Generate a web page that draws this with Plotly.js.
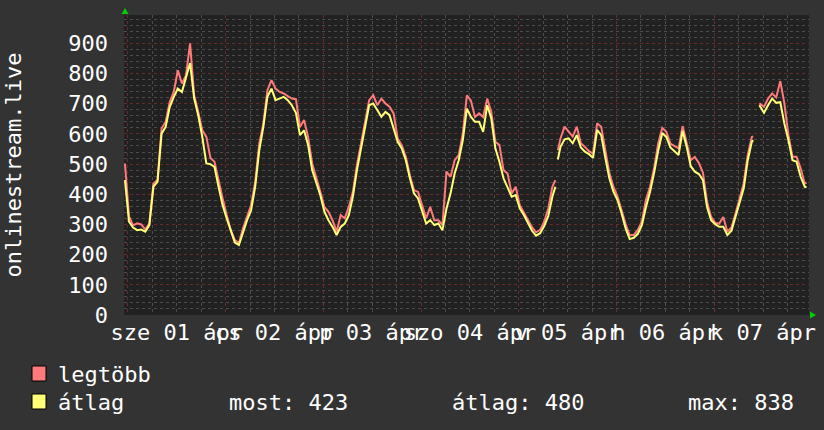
<!DOCTYPE html>
<html><head><meta charset="utf-8">
<script src="https://cdn.plot.ly/plotly-3.0.1.min.js"></script>
<style>html,body{margin:0;padding:0;background:#333333;}#chart{width:824px;height:430px;}</style>
</head><body><div id="chart"></div>
<script>
// time in hours from 01 Apr 00:00
const hours = [
-0.75,0.25,1.25,2.25,3.25,4.25,5.25,6.25,7.25,8.25,9.25,10.25,11.25,12.25,13.25,14.25,15.25,16.25,17.25,18.25,19.25,20.25,21.25,22.25,
23.25,24.25,25.25,26.25,27.25,28.25,29.25,30.25,31.25,32.25,33.25,34.25,35.25,36.25,37.25,38.25,39.25,40.25,41.25,42.25,43.25,44.25,45.25,46.25,
47.25,48.25,49.25,50.25,51.25,52.25,53.25,54.25,55.25,56.25,57.25,58.25,59.25,60.25,61.25,62.25,63.25,64.25,65.25,66.25,67.25,68.25,69.25,70.25,
71.25,72.25,73.25,74.25,75.25,76.25,77.25,78.25,79.25,80.25,81.25,82.25,83.25,84.25,85.25,86.25,87.25,88.25,89.25,90.25,91.25,92.25,93.25,94.25,
95.25,96.25,97.25,98.25,99.25,100.25,101.25,102.25,103.25,104.25,105.0,105.3,105.6,106.25,107.25,108.25,109.25,110.25,111.25,112.25,113.25,114.25,115.25,116.25,117.25,118.25,
119.25,120.25,121.25,122.25,123.25,124.25,125.25,126.25,127.25,128.25,129.25,130.25,131.25,132.25,133.25,134.25,135.25,136.25,137.25,138.25,139.25,140.25,141.25,142.25,
143.25,144.25,145.25,146.25,147.25,148.25,149.25,150.25,151.25,152.25,153.25,153.6,154.3,155.1,156.25,157.25,158.25,159.25,160.25,161.25,162.25,163.25,164.25,165.25,166.25,166.7
];
const atlag = [
447,309,290,281,283,276,298,425,441,601,623,689,723,750,739,783,835,718,662,590,502,500,491,425,
364,320,276,240,232,276,314,347,425,546,623,723,750,712,718,723,712,695,670,596,612,563,480,441,
397,342,314,292,265,292,303,331,392,480,552,623,695,701,679,657,673,662,618,574,552,513,453,403,
386,347,303,314,298,303,281,353,403,469,513,579,684,656,640,640,607,695,651,552,508,453,425,392,
397,353,331,306,279,263,271,295,328,392,425,null,515,557,582,585,569,596,555,541,533,521,613,596,522,453,
409,381,337,287,252,256,269,298,358,408,471,544,603,590,555,541,530,610,557,493,475,467,447,358,
314,301,292,292,265,279,325,375,419,513,574,579,null,695,670,695,717,703,705,634,579,513,508,458,425,423
];
const legtobb = [
502,327,297,304,300,283,304,436,447,618,640,706,739,811,767,794,900,728,673,612,590,520,508,441,
386,331,281,248,238,287,325,364,441,568,634,745,778,750,739,734,725,717,715,623,646,590,502,458,
408,358,342,314,276,331,320,358,408,497,568,634,712,728,695,717,701,690,668,585,563,524,463,414,
408,364,320,358,314,314,298,475,458,513,530,601,728,710,656,668,656,717,673,574,563,480,469,403,
425,364,339,312,291,274,282,309,353,425,447,null,546,585,624,607,591,624,569,557,543,535,635,624,552,471,
425,392,348,301,265,265,282,310,382,425,486,568,620,607,568,560,552,626,568,513,524,504,471,375,
325,305,303,325,276,290,336,386,436,530,590,592,null,701,690,717,734,721,775,701,596,524,524,486,436,438
];
const dayTickHours = [12,36,60,84,108,132,156];
const dayTickLabels = ['sze 01 ápr','cs 02 ápr','p 03 ápr','szo 04 ápr','v 05 ápr','h 06 ápr','k 07 ápr'];
const seriesNames = ['legtöbb','átlag'];
const seriesColors = ['#ff7b7b','#ffff78'];
const statLabels = ['most','átlag','max'];
const statValues = [423,480,838];
const yAxisTitle = 'onlinestream.live';

const FONT = 'DejaVu Sans Mono';
const xr = [-0.98, 167.3];

const traces = [
  {x: hours, y: legtobb, name: seriesNames[0], type: 'scatter', mode: 'lines', xaxis: 'x', yaxis: 'y',
   line: {color: seriesColors[0], width: 2}, connectgaps: false, hoverinfo: 'skip'},
  {x: hours, y: atlag, name: seriesNames[1], type: 'scatter', mode: 'lines', xaxis: 'x2', yaxis: 'y',
   line: {color: seriesColors[1], width: 2}, connectgaps: false, hoverinfo: 'skip'}
];

function px(x){ return (x - 124) / 685; }
function py(y){ return (315 - y) / 300; }

const shapes = [
  {type:'rect', xref:'paper', yref:'paper', x0:px(32), x1:px(46), y0:py(381), y1:py(366), fillcolor:seriesColors[0], line:{color:'#000', width:1}},
  {type:'rect', xref:'paper', yref:'paper', x0:px(32), x1:px(46), y0:py(409), y1:py(394), fillcolor:seriesColors[1], line:{color:'#000', width:1}},
  {type:'path', xref:'paper', yref:'paper', path:`M ${px(121.5)} ${py(14)} L ${px(128.5)} ${py(14)} L ${px(125)} ${py(8)} Z`, fillcolor:'#00d000', line:{width:0}},
  {type:'path', xref:'paper', yref:'paper', path:`M ${px(810)} ${py(311.5)} L ${px(810)} ${py(318.5)} L ${px(816)} ${py(315)} Z`, fillcolor:'#00d000', line:{width:0}}
];

const annFont = {family: FONT, size: 22, color: '#ffffff'};
const annotations = [
  {xref:'paper', yref:'paper', x:px(56), y:py(374), xanchor:'left', yanchor:'middle', text:seriesNames[0], showarrow:false, font:annFont},
  {xref:'paper', yref:'paper', x:px(56), y:py(402), xanchor:'left', yanchor:'middle', text:seriesNames[1], showarrow:false, font:annFont},
  {xref:'paper', yref:'paper', x:px(227), y:py(402), xanchor:'left', yanchor:'middle', text:statLabels[0] + ': ' + statValues[0], showarrow:false, font:annFont},
  {xref:'paper', yref:'paper', x:px(450), y:py(402), xanchor:'left', yanchor:'middle', text:statLabels[1] + ': ' + statValues[1], showarrow:false, font:annFont},
  {xref:'paper', yref:'paper', x:px(686), y:py(402), xanchor:'left', yanchor:'middle', text:statLabels[2] + ': ' + statValues[2], showarrow:false, font:annFont}
];

const layout = {
  width: 824, height: 430,
  paper_bgcolor: '#333333', plot_bgcolor: '#212121',
  margin: {l:124, r:15, t:15, b:115, pad:0},
  showlegend: false,
  font: {family: FONT, size: 22, color: '#ffffff'},
  xaxis: {range: xr, tickmode:'linear', tick0:0, dtick:24, showticklabels:false,
    showgrid:true, gridcolor:'#6a2b2b', griddash:'dot', gridwidth:1, zeroline:false, showline:false, ticks:'',
    minor:{tickmode:'linear', tick0:0, dtick:6, showgrid:true, gridcolor:'#4c4c4c', griddash:'dot', gridwidth:1}},
  xaxis2: {overlaying:'x', side:'bottom', anchor:'y', range: xr, tickmode:'array', tickvals: dayTickHours, ticktext: dayTickLabels,
    tickangle:0, showgrid:false, zeroline:false, showline:false, ticks:'', ticklabelstandoff: 2,
    tickfont:{family: FONT, size: 22, color:'#ffffff'}},
  yaxis: {range:[0, 994], tickmode:'linear', tick0:0, dtick:100, showgrid:true, gridcolor:'#6a2b2b', griddash:'dot', gridwidth:1,
    zeroline:false, showline:false, ticks:'', ticklabelstandoff: 15,
    tickfont:{family: FONT, size: 22, color:'#ffffff'},
    minor:{tickmode:'linear', tick0:0, dtick:20, showgrid:true, gridcolor:'#4c4c4c', griddash:'dot', gridwidth:1},
    title:{text: yAxisTitle, standoff: 40, font:{family: FONT, size: 22, color:'#ffffff'}}},
  shapes: shapes,
  annotations: annotations
};

Plotly.newPlot('chart', traces, layout, {staticPlot:true, displayModeBar:false});
</script>
</body></html>
